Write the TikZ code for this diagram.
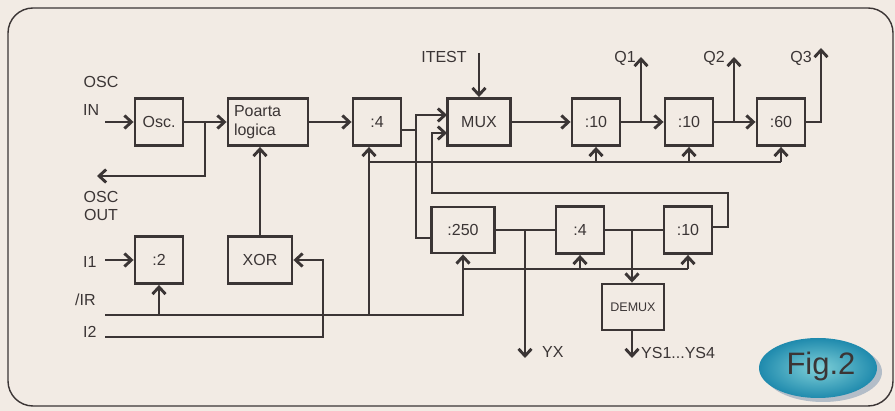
\documentclass[tikz,border=0pt]{standalone}
\usepackage{fontspec}
\setmainfont{Liberation Sans}
\usetikzlibrary{arrows.meta,positioning}
\definecolor{paper}{HTML}{F2EBE4}
\definecolor{ink}{HTML}{3B3535}
\definecolor{tealin}{HTML}{7FD0D8}
\definecolor{tealout}{HTML}{1F8AAD}
\definecolor{shadowblue}{HTML}{B3BDC8}
\tikzset{
  wire/.style={draw=ink,line width=2.9pt},
  arr/.style={wire,-{Straight Barb[length=7pt,width=13pt,line width=2.9pt]}},
  blok/.style={draw=ink,line width=2.9pt,inner sep=0pt,text=ink,
    minimum width=48pt,minimum height=47pt},
  lbl/.style={text=ink,inner sep=0pt}
}
\begin{document}
\begin{tikzpicture}[x=1pt,y=-1pt,font=\fontsize{16}{19}\selectfont]
  \fill[paper] (0,0) rectangle (895,411);
  \useasboundingbox (0,0) rectangle (895,411);
  \draw[ink,line width=1.4pt,rounded corners=25pt] (8,8) rectangle (893,406);

  % blocks, top row
  \node[blok] (osc) at (159,122) {Osc.};
  \node[blok,minimum width=80pt,align=left,text width=68pt] (poarta) at (268,122) {Poarta\\logica};
  \node[blok] (divA) at (377,122) {:4};
  \node[blok,minimum width=63pt] (mux) at (479,122) {MUX};
  \node[blok] (dzA) at (596,122) {:10};
  \node[blok] (dzB) at (689,122) {:10};
  \node[blok] (sx) at (781,122) {:60};
  % blocks, lower rows
  \node[blok] (div2) at (159,260) {:2};
  \node[blok,minimum width=64pt] (xor) at (260,260) {XOR};
  \node[blok,minimum width=63pt,minimum height=46pt] (d250) at (463,230) {:250};
  \node[blok] (divB) at (580,230) {:4};
  \node[blok] (dzC) at (688,230) {:10};
  \node[blok,minimum width=62pt,minimum height=46pt,font=\fontsize{12.5}{14}\selectfont] (demux) at (633,307) {DEMUX};

  % labels
  \node[lbl] (oscinA) at (101,82) {OSC};
  \node[lbl,anchor=west] (oscinB) at (83,110) {IN};
  \node[lbl] (oscoutA) at (101,197) {OSC};
  \node[lbl] (oscoutB) at (101,215) {OUT};
  \node[lbl,anchor=west] (lblI1) at (83,262) {I1};
  \node[lbl,anchor=west] (lblIR) at (75,300) {/IR};
  \node[lbl,anchor=west] (lblI2) at (83,332) {I2};
  \node[lbl] (itest) at (444,57) {ITEST};
  \node[lbl] (lblQ1) at (625,58) {Q1};
  \node[lbl] (lblQ2) at (714,58) {Q2};
  \node[lbl] (lblQ3) at (801,58) {Q3};
  \node[lbl,anchor=west] (lblYX) at (542,352) {YX};
  \node[lbl,anchor=west] (lblYS) at (641,353) {YS1...YS4};

  % pins and junctions
  \coordinate (oscin) at (105,122);
  \coordinate (jo) at (205,122);
  \coordinate (oscout) at (97,176);
  \coordinate (ja) at (416,130);
  \coordinate (muxin1) at (447,115);
  \coordinate (muxin2) at (447,133);
  \coordinate (d250in) at (431,238);
  \coordinate (itestin) at (479,53);
  \coordinate (q1) at (641,57);
  \coordinate (q2) at (734,57);
  \coordinate (q3) at (821,48);
  \coordinate (irin) at (105,315);
  \coordinate (jr) at (369,315);
  \coordinate (jb) at (369,162);
  \coordinate (jc) at (463,269);
  \coordinate (i1in) at (105,260);
  \coordinate (i2in) at (105,337);
  \coordinate (ji2) at (323,337);
  \coordinate (dzCout) at (712,227);
  \coordinate (fbA) at (728,227);
  \coordinate (fbB) at (432,193);
  \coordinate (yx) at (525,358);
  \coordinate (jd) at (632,230);
  \coordinate (ys) at (632,358);

  % oscillator and gate
  \draw[arr] (oscin) -- (osc.west);
  \draw[arr] (osc.east) -- (poarta.west);
  \draw[arr] (jo) |- (oscout);
  \draw[arr] (xor.north) -- (xor.north |- poarta.south);
  \draw[arr] (poarta.east) -- (divA.west);

  % into the multiplexer
  \draw[wire] (divA.east |- ja) -- (ja);
  \draw[arr] (ja) |- (muxin1);
  \draw[wire] (ja) |- (d250in);
  \draw[arr] (dzCout) -- (fbA) |- (fbB) |- (muxin2);
  \draw[arr] (itestin) -- (mux.north);

  % counter chain and outputs
  \draw[arr] (mux.east) -- (dzA.west);
  \draw[arr] (dzA.east) -- (dzB.west);
  \draw[arr] (dzB.east) -- (sx.west);
  \draw[arr] (q1 |- dzA.east) -- (q1);
  \draw[arr] (q2 |- dzB.east) -- (q2);
  \draw[arr] (sx.east) -| (q3);

  % reset lines
  \draw[arr] (irin) -| (d250.south);
  \draw[arr] (div2.south |- irin) -- (div2.south);
  \draw[arr] (jr) -- (jr |- divA.south);
  \draw[wire] (jb) -- (sx.south |- jb);
  \foreach \n in {dzA,dzB,sx}
    \draw[arr] (\n.south |- jb) -- (\n.south);
  \draw[wire] (jc) -- (dzC.south |- jc);
  \foreach \n in {divB,dzC}
    \draw[arr] (\n.south |- jc) -- (\n.south);

  % inputs I1, I2
  \draw[arr] (i1in) -- (div2.west);
  \draw[arr] (i2in) -- (ji2) |- (xor.east);

  % lower chain
  \draw[wire] (d250.east) -- (divB.west);
  \draw[arr] (yx |- d250.east) -- (yx);
  \draw[wire] (divB.east) -- (dzC.west);
  \draw[arr] (jd) -- (jd |- demux.north);
  \draw[arr] (jd |- demux.south) -- (ys);

  % figure badge
  \fill[shadowblue] (823,372) ellipse [x radius=59,y radius=30];
  \shade[inner color=tealin,outer color=tealout] (818,368) ellipse [x radius=59,y radius=30];
  \node[text=ink,font=\fontsize{31}{34}\selectfont] (fig) at (821,366) {Fig.2};
\end{tikzpicture}
\end{document}
